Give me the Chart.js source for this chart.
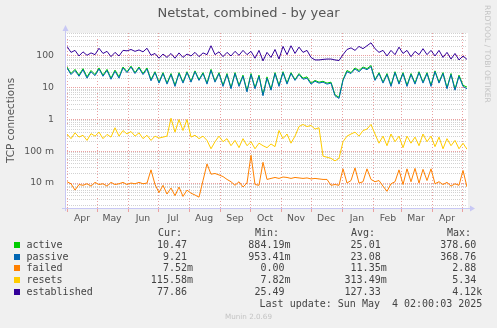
<!DOCTYPE html>
<html>
<head>
<meta charset="utf-8">
<title>Netstat, combined - by year</title>
<script src="https://cdn.jsdelivr.net/npm/chart.js@4.4.0/dist/chart.umd.min.js"></script>
<style>
  body { margin: 0; background: #f0f0f0; }
  #wrap { position: relative; width: 497px; height: 328px; overflow: hidden; font-family: "DejaVu Sans", sans-serif; }
  #graph { position: absolute; left: 0; top: 0; }
  .title { position: absolute; left: 0; top: 5px; width: 497px; text-align: center; font-size: 13px; color: #555; }
  .rrd { position: absolute; left: 482px; top: 5px; writing-mode: vertical-rl; font-size: 7.6px; line-height: 10px; color: #c4c4c4; }
  .leg { position: absolute; font-family: "DejaVu Sans Mono", monospace; font-size: 10px; line-height: 12px; color: #444; white-space: pre; }
  .sw { position: absolute; left: 14px; width: 6px; height: 6px; }
  .foot { position: absolute; left: 0; width: 497px; text-align: center; font-size: 7.2px; color: #c4c4c4; }
</style>
</head>
<body>
<div id="wrap">
  <canvas id="graph" width="497" height="328"></canvas>
  <div class="title">Netstat, combined - by year</div>
  <div class="rrd">RRDTOOL / TOBI OETIKER</div>
  <div id="legend"></div>
  <div class="foot" style="top: 312px;">Munin 2.0.69</div>
</div>
<script>
// one sample every 4 days, day 0 = 1 Apr 2024
const STEP = 4
const monthStarts = [0, 30, 61, 91, 122, 153, 183, 214, 244, 275, 306, 334, 365, 395]
const monthLabels = ["Apr", "May", "Jun", "Jul", "Aug", "Sep", "Oct", "Nov", "Dec", "Jan", "Feb", "Mar", "Apr", "May"]

const active = [
  45, 28, 38, 25, 40, 22, 35, 26, 42, 25,
  38, 20, 36, 22, 45, 32, 48, 30, 45, 28,
  42, 18, 32, 15, 30, 14, 28, 12, 30, 15,
  32, 16, 34, 18, 30, 14, 38, 16, 30, 12,
  28, 10, 30, 12, 25, 8, 28, 10, 25, 6,
  22, 9, 30, 12, 32, 14, 30, 18, 28, 20,
  22, 14, 17, 15, 16, 14, 15, 6, 5, 18,
  35, 30, 42, 35, 45, 40, 50, 18, 30, 15,
  28, 12, 32, 14, 30, 12, 28, 14, 32, 15,
  30, 12, 34, 15, 30, 10, 28, 9, 25, 12,
  10.47
]
const passive = [
  42, 26, 35, 23, 37, 20, 32, 24, 39, 23,
  35, 18.5, 33, 20, 42, 30, 45, 28, 42, 26,
  39, 16.5, 30, 14, 28, 13, 26, 11, 28, 14,
  30, 15, 32, 17, 28, 13, 35, 15, 28, 11,
  26, 9.3, 28, 11, 23, 7.4, 26, 9.3, 23, 5.6,
  20, 8.4, 28, 11, 30, 13, 28, 17, 26, 18.5,
  20, 13, 16, 14, 15, 13, 14, 5.6, 4.6, 17,
  32, 28, 39, 32, 42, 37, 46, 17, 28, 14,
  26, 11, 30, 13, 28, 11, 26, 13, 30, 14,
  28, 11, 32, 14, 28, 9.3, 26, 8.4, 23, 11,
  9.21
]
const failed = [
  0.011, 0.0095, 0.006, 0.009, 0.0085, 0.0095, 0.008, 0.0105, 0.009, 0.0095,
  0.008, 0.0105, 0.009, 0.0095, 0.0105, 0.009, 0.01, 0.0095, 0.0105, 0.0095,
  0.01, 0.026, 0.009, 0.005, 0.0085, 0.0045, 0.007, 0.004, 0.0075, 0.0038,
  0.006, 0.0048, 0.0042, 0.0036, 0.012, 0.04, 0.019, 0.02, 0.018, 0.016,
  0.013, 0.011, 0.0085, 0.011, 0.0075, 0.01, 0.075, 0.009, 0.0085, 0.045,
  0.013, 0.014, 0.015, 0.014, 0.0155, 0.015, 0.014, 0.015, 0.0145, 0.014,
  0.0145, 0.0135, 0.014, 0.0135, 0.013, 0.013, 0.0085, 0.009, 0.0085, 0.028,
  0.01, 0.012, 0.03, 0.01, 0.011, 0.028, 0.013, 0.011, 0.012, 0.008,
  0.0055, 0.0095, 0.011, 0.026, 0.009, 0.028, 0.011, 0.029, 0.01, 0.027,
  0.012, 0.028, 0.0095, 0.011, 0.009, 0.0105, 0.008, 0.0095, 0.0085, 0.025,
  0.00752
]
const resets = [
  0.35, 0.25, 0.38, 0.28, 0.32, 0.22, 0.36, 0.30, 0.40, 0.25,
  0.34, 0.28, 0.55, 0.30, 0.45, 0.35, 0.42, 0.30, 0.38, 0.25,
  0.32, 0.22, 0.30, 0.26, 0.28, 0.30, 1.1, 0.40, 1.0, 0.45,
  1.0, 0.28, 0.32, 0.25, 0.30, 0.22, 0.12, 0.20, 0.30, 0.20,
  0.25, 0.15, 0.22, 0.13, 0.25, 0.15, 0.20, 0.12, 0.18, 0.15,
  0.13, 0.17, 0.14, 0.45, 0.25, 0.35, 0.18, 0.30, 0.60, 0.70,
  0.60, 0.65, 0.50, 0.55, 0.07, 0.065, 0.06, 0.05, 0.06, 0.20,
  0.30, 0.35, 0.40, 0.30, 0.45, 0.50, 0.70, 0.35, 0.18, 0.30,
  0.15, 0.35, 0.20, 0.30, 0.13, 0.30, 0.18, 0.28, 0.15, 0.35,
  0.20, 0.30, 0.14, 0.28, 0.12, 0.25, 0.15, 0.22, 0.12, 0.18,
  0.11558
]
const established = [
  200, 130, 150, 100, 135, 105, 125, 110, 175, 120,
  140, 95, 130, 100, 150, 145, 160, 140, 155, 135,
  175, 105, 120, 85, 115, 90, 120, 85, 125, 90,
  115, 100, 130, 95, 125, 110, 210, 110, 135, 95,
  130, 100, 140, 105, 150, 110, 140, 85, 150, 70,
  130, 90, 160, 80, 200, 110, 210, 120, 190, 130,
  150, 90, 75, 75, 78, 80, 80, 75, 72, 110,
  160, 180, 150, 200, 170, 210, 260, 170, 130, 150,
  100, 150, 110, 190, 120, 150, 95, 140, 110, 170,
  110, 150, 100, 150, 90, 130, 80, 120, 75, 100,
  77.86
]

// legend rows
const seriesNames = ["active", "passive", "failed", "resets", "established"]
const seriesColors = ["#00cc00", "#0066b3", "#ff8000", "#ffcc00", "#330099"]
const curValues = ["10.47", "9.21", "7.52m", "115.58m", "77.86"]
const minValues = ["884.19m", "953.41m", "0.00", "7.82m", "25.49"]
const avgValues = ["25.01", "23.08", "11.35m", "313.49m", "127.33"]
const maxValues = ["378.60", "368.76", "2.88", "5.34", "4.12k"]
const lastUpdate = "Last update: Sun May  4 02:00:03 2025"

const seriesData = [active, passive, failed, resets, established]

function toPoints(values) {
  return values.map((v, i) => ({ x: i * STEP, y: v }))
}

function decadeLabel(v) {
  const e = Math.round(Math.log10(v))
  if (Math.abs(Math.log10(v) - e) > 1e-6) return ""
  const names = { "-2": "10 m", "-1": "100 m", "0": "1", "1": "10", "2": "100" }
  return names[e] || ""
}

// white plot area plus the rrdtool style axis lines with arrows
const frame = {
  id: "frame",
  beforeDraw(chart) {
    const { ctx, chartArea: a } = chart
    ctx.save()
    ctx.fillStyle = "#ffffff"
    ctx.fillRect(a.left - 1, a.top, a.right - a.left + 2, a.bottom - a.top)
    ctx.restore()
  },
  afterDatasetsDraw(chart) {
    const { ctx, chartArea: a } = chart
    ctx.save()
    ctx.strokeStyle = "#c8c8f4"
    ctx.fillStyle = "#c8c8f4"
    ctx.lineWidth = 1
    ctx.beginPath()
    ctx.moveTo(a.left - 1.5, a.bottom + 3)
    ctx.lineTo(a.left - 1.5, a.top - 2)
    ctx.moveTo(a.left - 5, a.bottom + 0.5)
    ctx.lineTo(a.right + 3, a.bottom + 0.5)
    ctx.stroke()
    ctx.beginPath()
    ctx.moveTo(a.left - 4.5, a.top - 2)
    ctx.lineTo(a.left + 1.5, a.top - 2)
    ctx.lineTo(a.left - 1.5, a.top - 8)
    ctx.closePath()
    ctx.fill()
    ctx.beginPath()
    ctx.moveTo(a.right + 3, a.bottom - 2.5)
    ctx.lineTo(a.right + 3, a.bottom + 3.5)
    ctx.lineTo(a.right + 8, a.bottom + 0.5)
    ctx.closePath()
    ctx.fill()
    ctx.restore()
  }
}

const ctx = document.getElementById("graph").getContext("2d")
new Chart(ctx, {
  type: "line",
  data: {
    datasets: seriesNames.map((name, k) => ({
      label: name,
      data: toPoints(seriesData[k]),
      borderColor: seriesColors[k],
      borderWidth: 1,
      pointRadius: 0,
      tension: 0,
      fill: false,
      order: 5 - k
    }))
  },
  options: {
    responsive: false,
    animation: false,
    devicePixelRatio: 1,
    layout: { padding: { left: 0, top: 33, right: 30, bottom: 100 } },
    plugins: { legend: { display: false }, tooltip: { enabled: false } },
    scales: {
      x: {
        type: "linear",
        min: 0,
        max: 400,
        bounds: "data",
        afterBuildTicks(scale) {
          scale.ticks = monthStarts.map((d) => ({ value: d }))
        },
        afterFit(scale) {
          scale.height = 20
        },
        ticks: {
          autoSkip: false,
          maxRotation: 0,
          padding: 1,
          labelOffset: 15,
          color: "#555",
          font: { family: "DejaVu Sans", size: 9.3 },
          callback(value, index) {
            return index < monthLabels.length - 1 ? monthLabels[index] : ""
          }
        },
        grid: { color: "#eaa0a0", drawTicks: true, tickLength: 4, lineWidth: 1 },
        border: { display: false, dash: [1, 2] }
      },
      y: {
        type: "logarithmic",
        min: 0.00164,
        max: 529,
        bounds: "data",
        afterBuildTicks(scale) {
          const ticks = []
          for (let e = -3; e <= 2; e++) {
            for (let k = 1; k <= 9; k++) {
              const v = k * Math.pow(10, e)
              if (v >= scale.min && v <= scale.max) ticks.push({ value: v })
            }
          }
          scale.ticks = ticks
        },
        afterFit(scale) {
          scale.width = 67
        },
        title: {
          display: true,
          text: "TCP connections",
          color: "#555",
          font: { family: "DejaVu Sans", size: 10.4 },
          padding: { top: 5, bottom: 0 }
        },
        ticks: {
          autoSkip: false,
          padding: 13,
          color: "#555",
          font: { family: "DejaVu Sans", size: 9.3 },
          callback(value) {
            return decadeLabel(value)
          }
        },
        grid: {
          drawTicks: false,
          lineWidth: 1,
          color(c) {
            return decadeLabel(c.tick.value) ? "#eaa0a0" : "#d2d2d2"
          }
        },
        border: { display: false, dash: [1, 1] }
      }
    }
  },
  plugins: [frame]
})

// legend table below the graph
const legend = document.getElementById("legend")
const ROW0 = 245
const ROW_H = 11.7
function addText(text, css) {
  const el = document.createElement("div")
  el.className = "leg"
  el.textContent = text
  Object.assign(el.style, css)
  legend.appendChild(el)
}
function withUnit(s) {
  return /[mk]$/.test(s) ? s : s + " "
}
const headers = [["Cur:", 158], ["Min:", 255], ["Avg:", 351], ["Max:", 447]]
headers.forEach(([t, x]) => addText(t, { left: x + "px", top: ROW0 - ROW_H - 6 + "px" }))
const colRight = [193, 290.5, 386.7, 482.3]
seriesNames.forEach((name, k) => {
  const cy = ROW0 + k * ROW_H
  const sw = document.createElement("div")
  sw.className = "sw"
  sw.style.top = cy - 3 + "px"
  sw.style.background = seriesColors[k]
  legend.appendChild(sw)
  addText(name, { left: "26.5px", top: cy - 6 + "px" })
  const cols = [curValues[k], minValues[k], avgValues[k], maxValues[k]]
  cols.forEach((v, c) => addText(withUnit(v), { right: 497 - colRight[c] + "px", top: cy - 6 + "px" }))
})
addText(lastUpdate, { right: 497 - 482.3 + "px", top: ROW0 + 5 * ROW_H - 6 + "px" })
</script>
</body>
</html>
